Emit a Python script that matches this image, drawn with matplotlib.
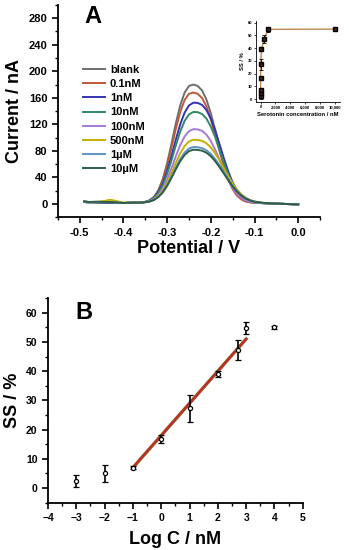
import matplotlib
matplotlib.use("Agg")
import matplotlib.pyplot as plt
from matplotlib.ticker import MultipleLocator, FuncFormatter

plt.rcParams['font.family'] = ['Liberation Sans', 'DejaVu Sans']
plt.rcParams['font.weight'] = 'bold'

# ---- panel A: DPV curves ----
potential = [-0.49, -0.48, -0.46, -0.44, -0.43, -0.42, -0.40, -0.38, -0.36,
             -0.35, -0.34, -0.33, -0.32, -0.31, -0.30, -0.29, -0.28, -0.27, -0.26, -0.25, -0.24,
             -0.23, -0.22, -0.21, -0.20, -0.19, -0.18, -0.17, -0.16, -0.15, -0.14, -0.13, -0.12, -0.11, -0.10,
             -0.08, -0.06, -0.04, -0.02, 0.0]

blank = [4, 3, 2, 2, 2, 2, 1.5, 2, 2,
         3.2, 5.5, 10.7, 20.9, 37.6, 61.6, 91.0, 121.8, 148.7, 167.9, 177.9, 180.0,
         177.9, 171.1, 157.3, 136.8, 111.9, 85.2, 60.2, 39.4, 23.8, 13.4, 7.2, 4.0, 2.5, 1.9,
         1.2, 0.8, 0.3, -0.2, -0.6]
c_01nM = [3.5, 3, 2.5, 2, 2.5, 2, 1.5, 2, 2,
          3.1, 5.3, 10.1, 19.6, 35.2, 57.6, 85.0, 113.7, 138.8, 156.7, 166.0, 168.0,
          166.0, 159.7, 146.8, 127.7, 104.4, 79.5, 56.3, 36.9, 22.3, 12.6, 6.8, 3.8, 2.4, 1.8,
          1.2, 0.8, 0.3, -0.2, -0.6]
c_1nM = [3, 2.5, 2.5, 2, 2, 2, 1.5, 2, 2,
         3.2, 5.3, 9.7, 18.0, 31.0, 49.7, 72.5, 97.3, 120.2, 137.7, 148.6, 152.7,
         152.3, 149.3, 141.6, 128.5, 110.7, 89.8, 68.4, 48.8, 32.3, 20.1, 11.8, 6.6, 3.8, 2.5,
         1.3, 0.8, 0.3, -0.2, -0.6]
c_10nM = [3, 2.5, 2.5, 2.5, 2.5, 2, 1.5, 2, 2,
          3.1, 5.0, 9.0, 16.5, 28.3, 45.3, 66.0, 88.4, 109.3, 125.2, 135.0, 138.7,
          138.4, 135.6, 128.6, 116.7, 100.6, 81.6, 62.2, 44.4, 29.4, 18.4, 10.8, 6.2, 3.6, 2.4,
          1.3, 0.8, 0.3, -0.2, -0.6]
c_100nM = [3, 2.5, 3, 3, 3, 2.5, 1.5, 2, 2,
           2.9, 4.4, 7.7, 13.8, 23.3, 37.1, 53.8, 72.0, 88.9, 101.8, 109.8, 112.8,
           112.4, 110.2, 104.5, 94.9, 81.8, 66.4, 50.7, 36.2, 24.1, 15.2, 9.0, 5.3, 3.2, 2.2,
           1.3, 0.8, 0.3, -0.2, -0.6]
c_500nM = [3, 2.5, 3, 5, 6.5, 5, 2, 2, 2,
           2.8, 4.1, 6.8, 12.1, 20.2, 32.0, 46.4, 61.9, 76.4, 87.4, 94.2, 96.8,
           96.5, 95.1, 91.5, 85.2, 76.4, 65.6, 53.8, 42.0, 31.0, 21.8, 14.6, 9.4, 6.0, 3.8,
           1.6, 0.9, 0.3, -0.2, -0.6]
c_1uM = [3, 2.5, 3, 3, 3, 2.5, 1.5, 2, 2,
         2.7, 3.8, 6.3, 10.9, 18.1, 28.5, 41.2, 55.0, 67.8, 77.5, 83.6, 85.8,
         85.5, 84.2, 81.0, 75.5, 67.7, 58.2, 47.8, 37.3, 27.6, 19.5, 13.1, 8.5, 5.4, 3.5,
         1.6, 0.9, 0.3, -0.2, -0.6]
c_10uM = [4, 3, 3.5, 3, 3, 2.5, 1.5, 2, 2,
          2.7, 3.7, 6.1, 10.5, 17.4, 27.3, 39.4, 52.5, 64.6, 73.9, 79.7, 81.8,
          81.5, 80.3, 77.3, 72.0, 64.5, 55.5, 45.6, 35.6, 26.4, 18.6, 12.5, 8.1, 5.3, 3.4,
          1.6, 0.9, 0.3, -0.2, -0.6]

labels = ["blank", "0.1nM", "1nM", "10nM", "100nM", "500nM", "1\u00b5M", "10\u00b5M"]
curves = [blank, c_01nM, c_1nM, c_10nM, c_100nM, c_500nM, c_1uM, c_10uM]
colors = ["#6e6e6e", "#c0583a", "#3434b4", "#2f8a66", "#a57ad8", "#c4b000", "#5f93c4", "#2e5e48"]

# ---- inset + panel B: SS vs concentration ----
conc_nM = [0.001, 0.01, 0.1, 1, 10, 100, 500, 1000, 10000]
log_c = [-3, -2, -1, 0, 1, 2, 2.7, 3, 4]
ss = [2.5, 5.0, 7.0, 16.8, 27.3, 39.0, 47.2, 54.8, 55.0]
ss_err = [2.0, 2.8, 0.5, 1.3, 4.6, 1.0, 3.4, 2.0, 0.6]
fit_x = [-1, 3]
fit_y = [7.0, 51.0]

fig = plt.figure(figsize=(3.49, 5.5), dpi=100)

# panel A
ax = fig.add_axes([0.166, 0.605, 0.751, 0.386])
for y, lab, col in zip(curves, labels, colors):
    ax.plot(potential, y, color=col, lw=1.4, label=lab)
ax.set_xlim(-0.55, 0.05)
ax.set_ylim(-20, 300)
ax.xaxis.set_major_locator(MultipleLocator(0.1))
ax.xaxis.set_minor_locator(MultipleLocator(0.05))
ax.yaxis.set_major_locator(MultipleLocator(40))
ax.yaxis.set_minor_locator(MultipleLocator(20))
ax.set_yticks(range(0, 281, 40))
ax.xaxis.set_major_formatter(FuncFormatter(lambda v, p: f"{v:.1f}"))
for s in ['top', 'right']:
    ax.spines[s].set_visible(False)
for s in ['left', 'bottom']:
    ax.spines[s].set_linewidth(1.3)
ax.tick_params(which='major', direction='out', length=4, width=1.2, labelsize=8)
ax.tick_params(which='minor', direction='out', length=2.5, width=1.0)
ax.set_xlabel("Potential / V", fontsize=13, fontweight='bold', labelpad=2)
ax.set_ylabel("Current / nA", fontsize=13, fontweight='bold', labelpad=4)
ax.text(-0.49, 282, "A", fontsize=17, fontweight='bold', va='center', ha='left')
ax.legend(loc='upper left', bbox_to_anchor=(0.065, 0.755), frameon=False,
          handlelength=2.0, handletextpad=0.45, labelspacing=0.38, borderpad=0.2,
          prop={'weight': 'bold', 'size': 8})

# inset
axi = fig.add_axes([0.733, 0.815, 0.241, 0.146])
axi.plot(conc_nM, ss, color="#c08a50", lw=1.0)
axi.errorbar(conc_nM, ss, yerr=ss_err, fmt='s', ms=2.2, color='black', mfc='#402020',
             ecolor='black', elinewidth=0.6, capsize=1.2, capthick=0.6)
axi.set_xlim(-650, 10700)
axi.set_ylim(-2, 61)
axi.set_xticks(range(0, 10001, 2000))
axi.set_yticks(range(0, 61, 10))
axi.xaxis.set_major_formatter(FuncFormatter(lambda v, p: f"{int(v):,}"))
for s in ['top', 'right']:
    axi.spines[s].set_visible(False)
for s in ['left', 'bottom']:
    axi.spines[s].set_linewidth(0.6)
axi.tick_params(direction='out', length=1.5, width=0.5, labelsize=3, pad=1)
axi.set_xlabel("Serotonin concentration / nM", fontsize=4.2, fontweight='bold', labelpad=2)
axi.set_ylabel("SS / %", fontsize=4.2, fontweight='bold', labelpad=2)

# panel B
bx = fig.add_axes([0.1375, 0.086, 0.73, 0.372])
bx.plot(fit_x, fit_y, color="#8b5a2b", lw=2.4)
bx.plot(fit_x, fit_y, color="#d42020", lw=1.0)
bx.errorbar(log_c, ss, yerr=ss_err, fmt='o', ms=3, color='black', mfc='white',
            mew=0.9, ecolor='black', elinewidth=1.2, capsize=2.2, capthick=1.2)
bx.set_xlim(-4, 5)
bx.set_ylim(-5, 65)
bx.xaxis.set_major_locator(MultipleLocator(1))
bx.xaxis.set_minor_locator(MultipleLocator(0.5))
bx.yaxis.set_major_locator(MultipleLocator(10))
bx.yaxis.set_minor_locator(MultipleLocator(5))
bx.set_yticks(range(0, 61, 10))
for s in ['top', 'right']:
    bx.spines[s].set_visible(False)
for s in ['left', 'bottom']:
    bx.spines[s].set_linewidth(1.3)
bx.tick_params(which='major', direction='out', length=4, width=1.2, labelsize=7.5)
bx.tick_params(which='minor', direction='out', length=2.5, width=1.0)
bx.set_xlabel("Log C / nM", fontsize=13, fontweight='bold', labelpad=6)
bx.set_ylabel("SS / %", fontsize=13, fontweight='bold', labelpad=4)
bx.text(-3.05, 60, "B", fontsize=17, fontweight='bold', va='center', ha='left')

fig.savefig("out.png", dpi=100)
